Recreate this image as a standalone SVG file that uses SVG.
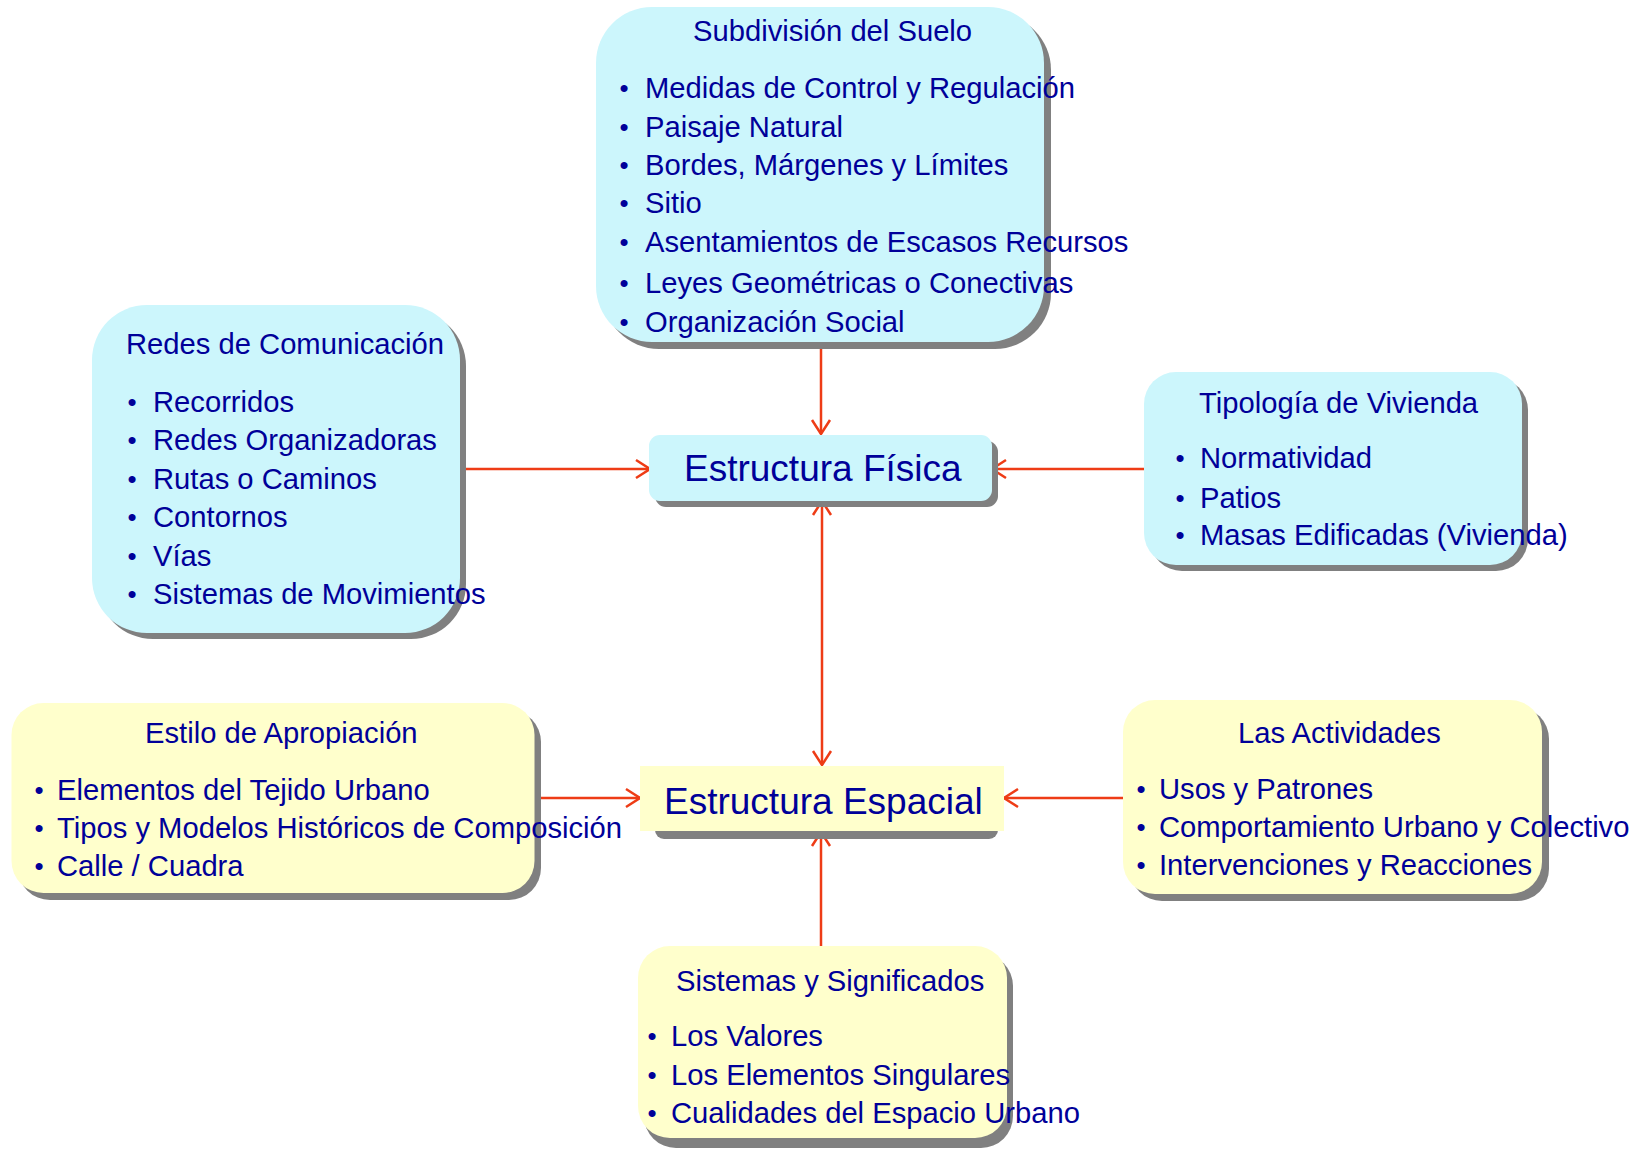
<svg xmlns="http://www.w3.org/2000/svg" width="1650" height="1149" viewBox="0 0 1650 1149">
  <style>
    .cyan { fill: #CCF6FC; }
    .yellow { fill: #FFFFCC; }
    .shadow { fill: #808080; }
    text { font-family: "Liberation Sans", Arial, sans-serif; fill: #000099; }
    .t { font-size: 29.2px; }
    .b { font-size: 26px; }
    .big { font-size: 37px; }
    .conn { stroke: #EE3C16; stroke-width: 2.5; fill: none; }
  </style>
  <defs>
    <marker id="arr" markerUnits="userSpaceOnUse" viewBox="-16 -12 18 24" markerWidth="18" markerHeight="24" refX="0" refY="0" orient="auto-start-reverse">
      <path d="M-14,-9 L0,0 L-14,9" fill="none" stroke="#EE3C16" stroke-width="2.5"/>
    </marker>
  </defs>
  <rect width="1650" height="1149" fill="#FFFFFF"/>

  <g id="connectors">
    <line class="conn" x1="821" y1="345" x2="821" y2="434" marker-end="url(#arr)"/>
    <line class="conn" x1="460" y1="469" x2="650" y2="469" marker-end="url(#arr)"/>
    <line class="conn" x1="1144" y1="469" x2="992" y2="469" marker-end="url(#arr)"/>
    <line class="conn" x1="822" y1="501" x2="822" y2="765" marker-start="url(#arr)" marker-end="url(#arr)"/>
    <line class="conn" x1="535" y1="798" x2="640" y2="798" marker-end="url(#arr)"/>
    <line class="conn" x1="1123" y1="798" x2="1004" y2="798" marker-end="url(#arr)"/>
    <line class="conn" x1="821" y1="946" x2="821" y2="832" marker-end="url(#arr)"/>
  </g>

  <g id="subdivision">
    <rect class="shadow" x="603" y="14" width="448" height="335" rx="56"/>
    <rect class="cyan" x="596" y="7" width="448" height="335" rx="56"/>
    <text class="t" x="693" y="41">Subdivisión del Suelo</text>
    <text class="b" x="619.5" y="97">•</text><text class="t" x="645" y="98">Medidas de Control y Regulación</text>
    <text class="b" x="619.5" y="136">•</text><text class="t" x="645" y="137">Paisaje Natural</text>
    <text class="b" x="619.5" y="174">•</text><text class="t" x="645" y="175">Bordes, Márgenes y Límites</text>
    <text class="b" x="619.5" y="212">•</text><text class="t" x="645" y="213">Sitio</text>
    <text class="b" x="619.5" y="251">•</text><text class="t" x="645" y="252">Asentamientos de Escasos Recursos</text>
    <text class="b" x="619.5" y="292">•</text><text class="t" x="645" y="293">Leyes Geométricas o Conectivas</text>
    <text class="b" x="619.5" y="331">•</text><text class="t" x="645" y="332">Organización Social</text>
  </g>

  <g id="redes">
    <rect class="shadow" x="98" y="311" width="368" height="328" rx="55"/>
    <rect class="cyan" x="92" y="305" width="368" height="328" rx="55"/>
    <text class="t" x="126" y="354">Redes de Comunicación</text>
    <text class="b" x="127.5" y="411">•</text><text class="t" x="153" y="412">Recorridos</text>
    <text class="b" x="127.5" y="449">•</text><text class="t" x="153" y="450">Redes Organizadoras</text>
    <text class="b" x="127.5" y="488">•</text><text class="t" x="153" y="489">Rutas o Caminos</text>
    <text class="b" x="127.5" y="526">•</text><text class="t" x="153" y="527">Contornos</text>
    <text class="b" x="127.5" y="565">•</text><text class="t" x="153" y="566">Vías</text>
    <text class="b" x="127.5" y="603">•</text><text class="t" x="153" y="604">Sistemas de Movimientos</text>
  </g>

  <g id="tipologia">
    <rect class="shadow" x="1150" y="378" width="378" height="193" rx="32"/>
    <rect class="cyan" x="1144" y="372" width="378" height="193" rx="32"/>
    <text class="t" x="1199" y="413">Tipología de Vivienda</text>
    <text class="b" x="1175.5" y="467">•</text><text class="t" x="1200" y="468">Normatividad</text>
    <text class="b" x="1175.5" y="507">•</text><text class="t" x="1200" y="508">Patios</text>
    <text class="b" x="1175.5" y="544">•</text><text class="t" x="1200" y="545">Masas Edificadas (Vivienda)</text>
  </g>

  <g id="fisica">
    <rect class="shadow" x="655" y="441" width="343" height="66" rx="11"/>
    <rect class="cyan" x="649" y="435" width="343" height="66" rx="11"/>
    <text class="big" x="684" y="481">Estructura Física</text>
  </g>

  <g id="espacial">
    <rect class="shadow" x="655" y="775" width="343" height="64" rx="9"/>
    <rect class="yellow" x="640" y="766" width="364" height="65"/>
    <text class="big" x="664" y="814">Estructura Espacial</text>
  </g>

  <g id="estilo">
    <rect class="shadow" x="18" y="710" width="523" height="190" rx="32"/>
    <rect class="yellow" x="11.5" y="703" width="523" height="190" rx="32"/>
    <text class="t" x="145" y="743">Estilo de Apropiación</text>
    <text class="b" x="34.5" y="799">•</text><text class="t" x="57" y="800">Elementos del Tejido Urbano</text>
    <text class="b" x="34.5" y="837">•</text><text class="t" x="57" y="838">Tipos y Modelos Históricos de Composición</text>
    <text class="b" x="34.5" y="875">•</text><text class="t" x="57" y="876">Calle / Cuadra</text>
  </g>

  <g id="actividades">
    <rect class="shadow" x="1130" y="707" width="419" height="194" rx="32"/>
    <rect class="yellow" x="1123" y="700" width="419" height="194" rx="32"/>
    <text class="t" x="1238" y="743">Las Actividades</text>
    <text class="b" x="1136.5" y="798">•</text><text class="t" x="1159" y="799">Usos y Patrones</text>
    <text class="b" x="1136.5" y="836">•</text><text class="t" x="1159" y="837">Comportamiento Urbano y Colectivo</text>
    <text class="b" x="1136.5" y="874">•</text><text class="t" x="1159" y="875">Intervenciones y Reacciones</text>
  </g>

  <g id="sistemas">
    <rect class="shadow" x="644" y="954" width="369" height="194" rx="32"/>
    <rect class="yellow" x="638" y="946" width="369" height="192" rx="32"/>
    <text class="t" x="676" y="991">Sistemas y Significados</text>
    <text class="b" x="647.5" y="1045">•</text><text class="t" x="671" y="1046">Los Valores</text>
    <text class="b" x="647.5" y="1084">•</text><text class="t" x="671" y="1085">Los Elementos Singulares</text>
    <text class="b" x="647.5" y="1122">•</text><text class="t" x="671" y="1123">Cualidades del Espacio Urbano</text>
  </g>
</svg>
